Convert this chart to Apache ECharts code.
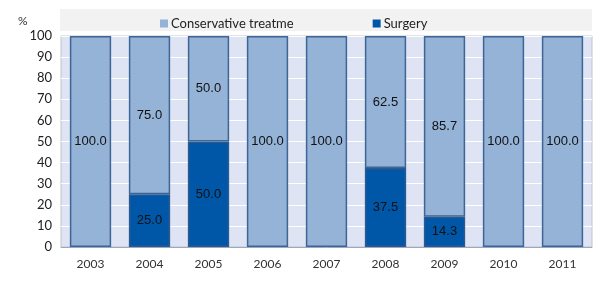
<!DOCTYPE html>
<html>
<head>
<meta charset="utf-8">
<script src="https://cdn.jsdelivr.net/npm/echarts@6/dist/echarts.min.js"></script>
<style>
  html, body { margin: 0; padding: 0; background: #fff; }
  #chart { width: 600px; height: 290px; }
</style>
</head>
<body>
<div id="chart"></div>
<script>
// data
const years = ['2003', '2004', '2005', '2006', '2007', '2008', '2009', '2010', '2011'];
const surgery = [0, 25.0, 50.0, 0, 0, 37.5, 14.3, 0, 0];
const conservative = [100.0, 75.0, 50.0, 100.0, 100.0, 62.5, 85.7, 100.0, 100.0];

const chart = echarts.init(document.getElementById('chart'));

// empty segments are not drawn at all (no border stub on the axis)
const noZero = arr => arr.map(v => (v > 0 ? v : '-'));

const barLabel = {
  show: true,
  position: 'inside',
  color: '#111',
  fontFamily: 'Liberation Sans',
  fontSize: 13,
  formatter: p => (p.value > 0 ? p.value.toFixed(1) : '')
};

const option = {
  backgroundColor: '#fff',
  animation: false,
  graphic: [
    // grey band behind the legend
    { type: 'rect', left: 60, top: 9, z: -1, shape: { width: 532, height: 22 }, style: { fill: '#f2f2f2' } },
    { type: 'text', left: 18, top: 15, style: { text: '%', fill: '#333', font: '12px Lato' } }
  ],
  legend: {
    top: 12,
    left: 155,
    itemGap: 79,
    itemWidth: 8,
    itemHeight: 8,
    icon: 'rect',
    itemStyle: { borderWidth: 0 },
    data: ['Conservative treatment', 'Surgery'],
    textStyle: {
      color: '#222', fontFamily: 'Lato', fontSize: 13, padding: [0, 0, 0, -2],
      width: 126, overflow: 'truncate', ellipsis: ''
    }
  },
  grid: {
    left: 61, right: 8, top: 36, bottom: 43,
    show: true,
    backgroundColor: '#dfe4f4',
    borderColor: '#c4c4c4',
    borderWidth: 1
  },
  xAxis: {
    type: 'category',
    data: years,
    axisLine: { show: true, lineStyle: { color: '#9aa7c7' } },
    axisTick: { show: false },
    axisLabel: { color: '#333', fontFamily: 'Lato', fontSize: 12, margin: 11 }
  },
  yAxis: {
    type: 'value',
    min: 0, max: 100, interval: 10,
    axisLine: { show: false },
    axisTick: { show: false },
    axisLabel: { color: '#222', fontFamily: 'Lato', fontSize: 13, margin: 9 },
    splitLine: { show: true, lineStyle: { color: '#ffffff', width: 1 } }
  },
  series: [
    {
      name: 'Surgery', type: 'bar', stack: 'total', data: noZero(surgery),
      barCategoryGap: '30%',
      itemStyle: { color: '#0057a8', borderColor: '#2d5a8e', borderWidth: 1.5 },
      label: barLabel
    },
    {
      name: 'Conservative treatment', type: 'bar', stack: 'total', data: noZero(conservative),
      barCategoryGap: '30%',
      itemStyle: { color: '#95b3d7', borderColor: '#3d6596', borderWidth: 1.5 },
      label: barLabel
    }
  ]
};

chart.setOption(option);
</script>
</body>
</html>
